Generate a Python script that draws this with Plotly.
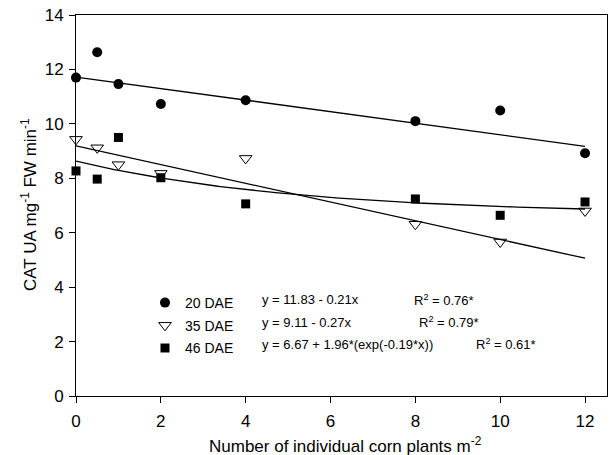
import numpy as np
import plotly.graph_objects as go

# ---- data ----
density = [0, 0.5, 1, 2, 4, 8, 10, 12]
dae20 = [11.70, 12.63, 11.46, 10.73, 10.87, 10.10, 10.49, 8.92]
dae35 = [9.43, 9.12, 8.50, 8.18, 8.73, 6.31, 5.66, 6.80]
dae46 = [8.27, 7.97, 9.50, 8.02, 7.06, 7.24, 6.64, 7.13]

series_names = ["20 DAE", "35 DAE", "46 DAE"]
equations = ["y = 11.83 - 0.21x", "y = 9.11 - 0.27x", "y = 6.67 + 1.96*(exp(-0.19*x))"]
r2_values = ["0.76*", "0.79*", "0.61*"]

# fitted lines as drawn (linear: intercept, slope; exponential: a, b, c)
lin20 = [11.72, -0.212]
lin35 = [9.19, -0.344]
exp46 = [6.67, 1.96, -0.19]

x_ticks = [0, 2, 4, 6, 8, 10, 12]
y_ticks = [0, 2, 4, 6, 8, 10, 12, 14]

FONT = "Liberation Sans, Arial, sans-serif"

fig = go.Figure()

# fit lines
xl = np.array([0, 12])
xe = np.linspace(0, 12, 121)
line_style = dict(color="black", width=1.3)
fig.add_trace(go.Scatter(x=xl, y=lin20[0] + lin20[1] * xl, mode="lines",
                         line=line_style, showlegend=False, hoverinfo="skip"))
fig.add_trace(go.Scatter(x=xl, y=lin35[0] + lin35[1] * xl, mode="lines",
                         line=line_style, showlegend=False, hoverinfo="skip"))
fig.add_trace(go.Scatter(x=xe, y=exp46[0] + exp46[1] * np.exp(exp46[2] * xe), mode="lines",
                         line=line_style, showlegend=False, hoverinfo="skip"))

# points
fig.add_trace(go.Scatter(x=density, y=dae20, mode="markers", name=series_names[0],
                         legendgroup="a",
                         marker=dict(symbol="circle", size=10, color="black")))
fig.add_trace(go.Scatter(x=density, y=dae35, mode="markers", name=series_names[1],
                         legendgroup="b",
                         marker=dict(symbol="triangle-down-open", size=11, color="black",
                                     line=dict(width=1, color="black"))))
fig.add_trace(go.Scatter(x=density, y=dae46, mode="markers", name=series_names[2],
                         legendgroup="c",
                         marker=dict(symbol="square", size=9, color="black")))
fig.update_traces(cliponaxis=False)

L, R, T, B = 76, 6, 15, 59
W, H = 613, 455
pw = W - L - R
ph = H - T - B

def px_x(p):
    return (p - L) / pw

def px_y(p):
    return (H - B - p) / ph

annotations = []
row_y = [299.5, 322, 344]
r2_x = [412, 417, 474]
for i in range(3):
    annotations.append(dict(text=equations[i], x=px_x(260), y=px_y(row_y[i]),
                            xref="paper", yref="paper", xanchor="left", yanchor="middle",
                            showarrow=False, font=dict(family=FONT, size=13, color="black")))
    annotations.append(dict(text="R<sup>2</sup> = " + r2_values[i], x=px_x(r2_x[i]), y=px_y(row_y[i]),
                            xref="paper", yref="paper", xanchor="left", yanchor="middle",
                            showarrow=False, font=dict(family=FONT, size=13, color="black")))

annotations.append(dict(text="Number of individual corn plants m<sup>-2</sup>",
                        x=px_x(345), y=px_y(445), xref="paper", yref="paper",
                        xanchor="center", yanchor="middle", showarrow=False,
                        font=dict(family=FONT, size=17, color="black")))
annotations.append(dict(text="CAT UA mg<sup>-1</sup> FW min<sup>-1</sup>",
                        x=px_x(29), y=px_y(205), xref="paper", yref="paper", textangle=-90,
                        xanchor="center", yanchor="middle", showarrow=False,
                        font=dict(family=FONT, size=17, color="black")))

fig.update_layout(
    width=W, height=H,
    margin=dict(l=L, r=R, t=T, b=B, pad=0),
    paper_bgcolor="white", plot_bgcolor="white",
    font=dict(family=FONT, size=15, color="black"),
    showlegend=True,
    legend=dict(x=px_x(145), y=px_y(287), xanchor="left", yanchor="top",
                bgcolor="rgba(0,0,0,0)", borderwidth=0,
                font=dict(family=FONT, size=14, color="black"),
                tracegroupgap=1.5, itemsizing="trace"),
    annotations=annotations,
    xaxis=dict(range=[0, pw / 42.42], tickvals=x_ticks, ticks="outside", ticklen=6,
               tickwidth=1, tickcolor="black", showline=True, linecolor="black",
               linewidth=1, mirror=True, showgrid=False, zeroline=False,
               ticklabelstandoff=4,
               tickfont=dict(family=FONT, size=17, color="black")),
    yaxis=dict(range=[0, 14], tickvals=y_ticks, ticks="outside", ticklen=6,
               tickwidth=1, tickcolor="black", showline=True, linecolor="black",
               linewidth=1, mirror=True, showgrid=False, zeroline=False,
               ticklabelstandoff=2,
               tickfont=dict(family=FONT, size=17, color="black")),
)

fig.write_html("out.html")
